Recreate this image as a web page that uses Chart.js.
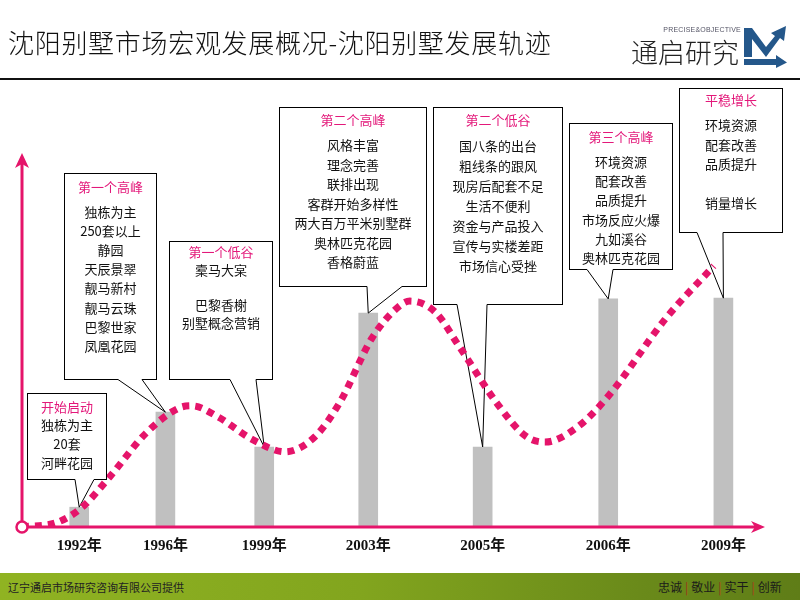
<!DOCTYPE html>
<html>
<head>
<meta charset="utf-8">
<script src="https://cdn.jsdelivr.net/npm/chart.js@4.4.1/dist/chart.umd.min.js"></script>
<style>
  body { margin: 0; width: 800px; height: 600px; overflow: hidden; background: #fff; position: relative; font-family: "Noto Sans CJK SC", sans-serif; }
  #chart { position: absolute; left: 0; top: 0; }
  .title { position: absolute; left: 8px; top: 28px; font-size: 26px; line-height: 28px; color: #111; white-space: nowrap; letter-spacing: 0.7px; font-weight: 300; }
  .rule { position: absolute; left: 0; top: 78px; width: 800px; height: 2px; background: #111; }
  .logo-en { position: absolute; left: 660px; top: 26px; width: 81px; text-align: right; font: 7px "Liberation Sans", sans-serif; color: #556; letter-spacing: 0.2px; }
  .logo-cn { position: absolute; left: 631px; top: 37px; font-size: 27px; line-height: 30px; color: #222; font-weight: 300; }
  .logo-mark { position: absolute; left: 744px; top: 26px; }
  .callout { position: absolute; box-sizing: border-box; border: 1px solid #000; border-bottom: none; }
  .callout div { position: absolute; left: 0; right: 0; text-align: center; font-size: 13px; line-height: 16px; height: 16px; white-space: nowrap; color: #111; }
  .callout div.head { color: #e3187a; }
  .footer { position: absolute; left: 0; top: 573px; width: 800px; height: 27px; background: linear-gradient(to right, #90b322, #82a51e 45%, #6a8a1a 80%, #5f7d17); }
  .footer .left { position: absolute; left: 8px; top: 6px; font-size: 11px; line-height: 16px; color: #222; }
  .footer .right { position: absolute; left: 658px; top: 5px; font-size: 12px; line-height: 17px; color: #1a1a1a; white-space: nowrap; }
  .footer .right span { color: #a8321c; margin: 0 3px; }
</style>
</head>
<body>
<canvas id="chart" width="800" height="600"></canvas>
<div class="title">沈阳别墅市场宏观发展概况-沈阳别墅发展轨迹</div>
<div class="rule"></div>
<div class="logo-en">PRECISE&amp;OBJECTIVE</div>
<div class="logo-cn">通启研究</div>
<svg class="logo-mark" width="44" height="42" viewBox="0 0 44 42">
  <polygon fill="#24578a" points="0,2 8,2 22,21 31,10 27,7 42,0 40,15 36,12 22,31 8,13 8,31 0,31" />
  <polygon fill="#24578a" points="0,33 32,33 32,29 43,36.5 32,42 32,39 0,39" />
</svg>
<div id="callouts"></div>
<div class="footer">
  <div class="left">辽宁通启市场研究咨询有限公司提供</div>
  <div class="right">忠诚<span>|</span>敬业<span>|</span>实干<span>|</span>创新</div>
</div>
<script>
// timeline positions (0-100) and bar heights (0-100)
const yearLabels = ["1992年", "1996年", "1999年", "2003年", "2005年", "2006年", "2009年"];
const barPositions = [7.7, 19.3, 32.6, 46.6, 62.0, 78.9, 94.4];
const barValues = [5.3, 30.7, 21.4, 57.2, 21.4, 61.0, 61.2];

// dotted trend curve
const curveX = [0, 4.8, 8.1, 11.8, 16.7, 21.1, 22.9, 26.4, 31.1, 35.4, 39.4, 42.8, 47.1, 50.5, 52.2, 55.6, 58.9, 64.1, 67.8, 70.4, 74.6, 78.7, 86.7, 93.1];
const curveY = [0, 1.3, 5.3, 13.4, 25.1, 31.8, 32.4, 29.4, 23.3, 20.1, 24.1, 33.4, 50.5, 58.6, 60.4, 57.5, 48.1, 32.6, 24.3, 22.7, 26.5, 34.5, 55.9, 69.8];

// callout texts, one per bar
const calloutTitles = ["开始启动", "第一个高峰", "第一个低谷", "第二个高峰", "第二个低谷", "第三个高峰", "平稳增长"];
const calloutLines = [
  ["独栋为主", "20套", "河畔花园"],
  ["独栋为主", "250套以上", "静园", "天辰景翠", "靓马新村", "靓马云珠", "巴黎世家", "凤凰花园"],
  ["槖马大宲", "", "巴黎香榭", "别墅概念营销"],
  ["风格丰富", "理念完善", "联排出现", "客群开始多样性", "两大百万平米别墅群", "奥林匹克花园", "香格蔚蓝"],
  ["国八条的出台", "粗线条的跟风", "现房后配套不足", "生活不便利", "资金与产品投入", "宣传与实楼差距", "市场信心受挫"],
  ["环境资源", "配套改善", "品质提升", "市场反应火爆", "九如溪谷", "奥林匹克花园"],
  ["环境资源", "配套改善", "品质提升", "", "销量增长"]
];

// box layout (page pixels): edges, tail base, text offsets
const calloutBoxes = [
  { l: 27, t: 393, r: 107, b: 480, base: [75, 94], titleY: 14, bodyY: 32, step: 19 },
  { l: 64, t: 173, r: 157, b: 380, base: [118, 142], titleY: 14, bodyY: 39, step: 19.1 },
  { l: 169, t: 241, r: 273, b: 380, base: [230, 256], titleY: 11, bodyY: 29, step: 17.5 },
  { l: 279, t: 107, r: 427, b: 287, base: [367, 402], titleY: 13, bodyY: 38, step: 19.5 },
  { l: 433, t: 107, r: 563, b: 305, base: [457, 487], titleY: 13, bodyY: 39, step: 20 },
  { l: 569, t: 123, r: 673, b: 270, base: [587, 613], titleY: 14, bodyY: 39, step: 19.2 },
  { l: 679, t: 88, r: 783, b: 233, base: [697, 723], titleY: 12, bodyY: 37, step: 19.5 }
];

const PINK = "#e5146a";

const holder = document.getElementById("callouts");
calloutBoxes.forEach((box, i) => {
  const el = document.createElement("div");
  el.className = "callout";
  el.style.cssText = `left:${box.l}px;top:${box.t}px;width:${box.r - box.l}px;height:${box.b - box.t}px`;
  let html = `<div class="head" style="top:${box.titleY - 9}px">${calloutTitles[i]}</div>`;
  calloutLines[i].forEach((txt, j) => {
    if (txt) html += `<div style="top:${box.bodyY + j * box.step - 9}px">${txt}</div>`;
  });
  el.innerHTML = html;
  holder.appendChild(el);
});

const calloutTails = {
  id: "calloutTails",
  afterDatasetDraw(chart, args) {
    if (args.meta.type !== "bar") return;
    const { ctx, scales } = chart;
    ctx.save();
    ctx.lineWidth = 1;
    ctx.strokeStyle = "#000";
    calloutBoxes.forEach((box, i) => {
      const tx = scales.x.getPixelForValue(barPositions[i]);
      const ty = scales.y.getPixelForValue(barValues[i]);
      const y = box.b - 0.5;
      ctx.beginPath();
      ctx.moveTo(box.l, y);
      ctx.lineTo(box.base[0], y);
      ctx.lineTo(tx, ty);
      ctx.lineTo(box.base[1], y);
      ctx.lineTo(box.r, y);
      ctx.stroke();
    });
    ctx.restore();
  }
};

const axisArrows = {
  id: "axisArrows",
  afterDatasetsDraw(chart) {
    const { ctx } = chart;
    const { left, right, top, bottom } = chart.chartArea;
    ctx.save();
    ctx.strokeStyle = PINK;
    ctx.fillStyle = PINK;
    ctx.lineWidth = 3;
    ctx.beginPath();
    ctx.moveTo(left, bottom);
    ctx.lineTo(right - 8, bottom);
    ctx.moveTo(left, bottom);
    ctx.lineTo(left, top + 8);
    ctx.stroke();
    ctx.beginPath();
    ctx.moveTo(right, bottom);
    ctx.lineTo(right - 14, bottom - 6);
    ctx.lineTo(right - 10, bottom);
    ctx.lineTo(right - 14, bottom + 6);
    ctx.closePath();
    ctx.fill();
    ctx.beginPath();
    ctx.moveTo(left, top);
    ctx.lineTo(left - 7, top + 15);
    ctx.lineTo(left, top + 11);
    ctx.lineTo(left + 7, top + 15);
    ctx.closePath();
    ctx.fill();
    ctx.beginPath();
    ctx.arc(left, bottom, 5.5, 0, Math.PI * 2);
    ctx.fillStyle = "#fff";
    ctx.fill();
    ctx.lineWidth = 2.5;
    ctx.stroke();
    ctx.restore();
  }
};

new Chart(document.getElementById("chart"), {
  type: "bar",
  data: {
    datasets: [
      {
        type: "line",
        data: curveX.map((x, i) => ({ x, y: curveY[i] })),
        borderColor: PINK,
        borderWidth: 7,
        borderDash: [7, 6],
        borderCapStyle: "butt",
        pointRadius: 0,
        cubicInterpolationMode: "monotone",
        fill: false,
        order: 0
      },
      {
        type: "bar",
        data: barPositions.map((x, i) => ({ x, y: barValues[i] })),
        backgroundColor: "#c0c0c0",
        barThickness: 19,
        order: 1
      }
    ]
  },
  options: {
    responsive: false,
    animation: false,
    layout: { padding: { left: 22, right: 35, top: 153, bottom: 35 } },
    plugins: { legend: { display: false }, tooltip: { enabled: false } },
    scales: {
      x: {
        type: "linear",
        min: 0,
        max: 100,
        offset: false,
        grid: { display: false, drawTicks: false },
        border: { display: false },
        afterBuildTicks: (scale) => { scale.ticks = barPositions.map(v => ({ value: v })); },
        ticks: {
          autoSkip: false,
          maxRotation: 0,
          padding: 10,
          color: "#111",
          font: { family: '"Liberation Serif", "Noto Sans CJK SC", serif', size: 15, weight: "bold" },
          callback: (v) => yearLabels[barPositions.indexOf(v)]
        }
      },
      y: { min: 0, max: 100, display: false }
    }
  },
  plugins: [calloutTails, axisArrows]
});
</script>
</body>
</html>
